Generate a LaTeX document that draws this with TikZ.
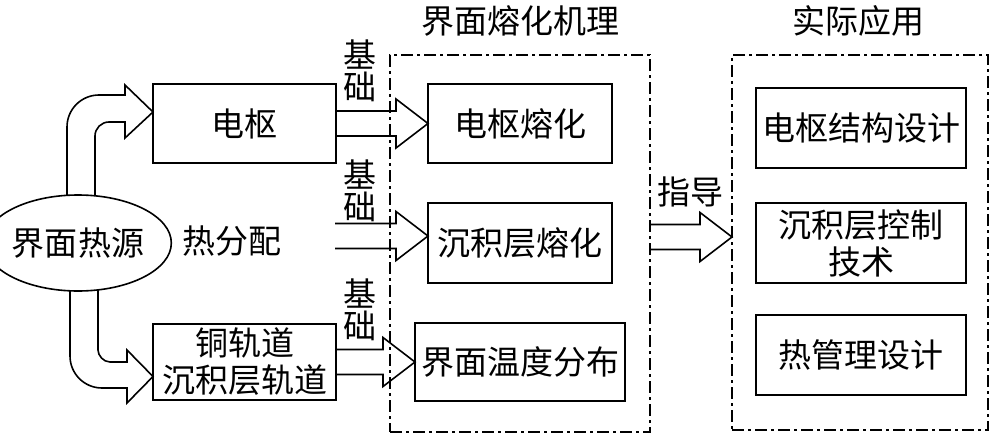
\documentclass[tikz,border=0pt]{standalone}
\usepackage{fontspec}
\setmainfont{Noto Sans CJK SC}
\usetikzlibrary{shapes.geometric,calc}
\newcommand{\blockarr}[2]{%
  \draw[bar] let \p1=(#1), \p2=(#2) in
    (\x1,\y2+12.5pt) -- (\x2-32pt,\y2+12.5pt) -- (\x2-32pt,\y2+24.5pt) -- (\x2,\y2)
    -- (\x2-32pt,\y2-24.5pt) -- (\x2-32pt,\y2-12.5pt) -- (\x1,\y2-12.5pt);}
\begin{document}
\begin{tikzpicture}[x=1pt,y=-1pt,
  lw/.style={line width=1.6pt},
  box/.style={draw,lw,rectangle,inner sep=0pt,outer sep=0pt,align=center,
    font=\fontsize{33}{37}\selectfont},
  dbox/.style={draw,lw,rectangle,inner sep=0pt,outer sep=0pt,
    dash pattern=on 12pt off 4pt on 3pt off 4pt},
  txt/.style={inner sep=0pt,align=center,font=\fontsize{33}{37}\selectfont},
  stk/.style={inner sep=0pt,align=center,font=\fontsize{33}{32}\selectfont},
  bar/.style={draw,lw,line join=miter}]
\useasboundingbox (0,0) rectangle (992,436);
% dashed frames
\node[dbox,minimum width=260pt,minimum height=377pt] (mech) at (520,243.5) {};
\node[dbox,minimum width=256pt,minimum height=375pt] (app) at (860,242.5) {};
% titles
\node[txt] (title1) at (520,21) {界面熔化机理};
\node[txt] (title2) at (858,21) {实际应用};
% left boxes
\node[box,minimum width=183pt,minimum height=79pt] (arm) at (244.5,123.5) {电枢};
\node[box,minimum width=183pt,minimum height=76pt] (rail) at (244.5,362) {铜轨道\\沉积层轨道};
% middle boxes
\node[box,minimum width=184pt,minimum height=79pt] (melt1) at (520,123.5) {电枢熔化};
\node[box,minimum width=184pt,minimum height=80pt] (melt2) at (520,243) {沉积层熔化};
\node[box,minimum width=210pt,minimum height=78pt] (temp) at (520,362) {界面温度分布};
% right boxes
\node[box,minimum width=210pt,minimum height=80pt] (d1) at (861,128) {电枢结构设计};
\node[box,minimum width=210pt,minimum height=80pt] (d2) at (861,243) {沉积层控制\\技术};
\node[box,minimum width=210pt,minimum height=80pt] (d3) at (861,355) {热管理设计};
% labels
\node[txt] (heat) at (232,241) {热分配};
\node[txt] (guide) at (690,192) {指导};
\node[stk] (b1) at (360,71) {基\\础};
\node[stk] (b2) at (360,191) {基\\础};
\node[stk] (b3) at (360,310) {基\\础};
% straight block arrows
\coordinate (a2s) at (335,236);
\coordinate (a2e) at (melt2.west |- a2s);
\coordinate (gs) at (650,237);
\coordinate (ge) at (732,237);
\blockarr{arm.east}{melt1.west}
\blockarr{a2s}{a2e}
\blockarr{rail.east}{temp.west}
\blockarr{gs}{ge}
% curved block arrows
\draw[bar] (67,230) -- (67,127) .. controls (67,109.3) and (81.3,95) .. (99,95)
  -- (125,95) -- (125,85) -- (153,112) -- (125,138) -- (125,122) -- (109,122)
  .. controls (101.3,122) and (95,128.3) .. (95,136) -- (95,230);
\draw[bar] (70,260) -- (70,356) .. controls (70,373.7) and (84.3,388) .. (102,388)
  -- (127,388) -- (127,403) -- (153,376.5) -- (127,350) -- (127,362) -- (110,362)
  .. controls (103.4,362) and (98,355.4) .. (98,350) -- (98,260);
% source ellipse
\node[ellipse,draw,lw,fill=white,inner sep=0pt,minimum width=154pt,minimum height=96pt,
  font=\fontsize{33}{37}\selectfont] (src) at (78,243) {界面热源};
\end{tikzpicture}
\end{document}
